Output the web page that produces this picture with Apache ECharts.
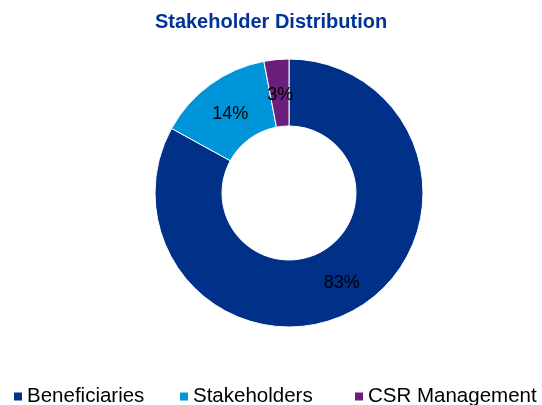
<!DOCTYPE html>
<html><head><meta charset="utf-8">
<script src="https://cdn.jsdelivr.net/npm/echarts@6/dist/echarts.min.js"></script>
<style>html,body{margin:0;padding:0;background:#fff}#c{width:542px;height:405px}</style>
</head><body><div id="c"></div>
<script>
const categories = ['Beneficiaries', 'Stakeholders', 'CSR Management'];
const values = [83, 14, 3];
const colors = ['#003087', '#0095D9', '#6A1F7A'];
const labelOffsets = [[0, 1], [2, 5], [1, 5]];
const legendLefts = [12, 178, 353];
const chart = echarts.init(document.getElementById('c'));
chart.setOption({
  animation: false,
  title: { text: 'Stakeholder Distribution', left: 'center', top: 7,
    textStyle: { fontFamily: 'Liberation Sans, Arial', fontSize: 20, fontWeight: 'bold', color: '#003399' } },
  legend: categories.map((n, i) => ({
    bottom: -2, left: legendLefts[i], padding: 0, itemWidth: 10, itemHeight: 10, icon: 'rect',
    textStyle: { fontFamily: 'Liberation Sans, Arial', fontSize: 20.5, color: '#000', padding: [0, 0, 0, -1] },
    data: [n] })),
  series: [{
    type: 'pie', center: [289, 193], radius: [67, 134], startAngle: 90, clockwise: true,
    itemStyle: { borderColor: '#fff', borderWidth: 1 },
    label: { show: true, position: 'inside', formatter: p => p.value + '%',
      fontFamily: 'Liberation Sans, Arial', fontSize: 18, color: '#000' },
    labelLine: { show: false },
    data: categories.map((n, i) => ({ name: n, value: values[i], itemStyle: { color: colors[i] },
      label: { offset: labelOffsets[i] } }))
  }]
});
</script></body></html>
